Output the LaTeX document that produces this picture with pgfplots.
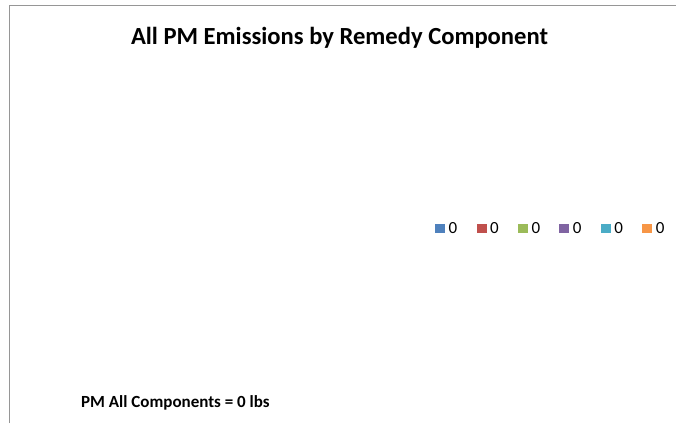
\documentclass[border=0pt]{standalone}
\usepackage{fontspec}
\setmainfont{Carlito}
\usepackage{pgfplots}
\pgfplotsset{compat=1.18}
\definecolor{c1}{HTML}{4F81BD}
\definecolor{c2}{HTML}{C0504D}
\definecolor{c3}{HTML}{9BBB59}
\definecolor{c4}{HTML}{8064A2}
\definecolor{c5}{HTML}{4BACC6}
\definecolor{c6}{HTML}{F79646}
\definecolor{frame}{RGB}{150,150,150}
\begin{document}
\begin{tikzpicture}[x=1pt,y=1pt]
\path[use as bounding box] (0,0) rectangle (676,423);
\draw[frame, line width=1.5pt] (9.5,0) -- (9.5,417.5) -- (676,417.5);
\begin{axis}[
  at={(0,0)}, anchor=south west,
  scale only axis, width=676pt, height=423pt,
  xmin=0, xmax=676, ymin=0, ymax=423,
  hide axis,
  legend columns=6,
  legend style={at={(axis cs:432,194.5)}, anchor=west, draw=none, fill=none,
    font=\fontsize{17}{19}\selectfont,
    nodes={inner sep=0pt, anchor=west},
    /tikz/every odd column/.append style={column sep=3.5pt},
    /tikz/every even column/.append style={column sep=19.3pt}},
  legend image code/.code={\fill[#1] (0pt,-4.8pt) rectangle (10pt,4.8pt);},
]
\addplot[draw=none, fill=c1] coordinates {(0,0)}; \addlegendentry{0}
\addplot[draw=none, fill=c2] coordinates {(0,0)}; \addlegendentry{0}
\addplot[draw=none, fill=c3] coordinates {(0,0)}; \addlegendentry{0}
\addplot[draw=none, fill=c4] coordinates {(0,0)}; \addlegendentry{0}
\addplot[draw=none, fill=c5] coordinates {(0,0)}; \addlegendentry{0}
\addplot[draw=none, fill=c6] coordinates {(0,0)}; \addlegendentry{0}
\end{axis}
\node[font=\fontsize{24.6}{28}\selectfont\bfseries, inner sep=0pt] at (339.5,385) {All PM Emissions by Remedy Component};
\node[font=\fontsize{17}{19}\selectfont\bfseries, inner sep=0pt, anchor=west] at (81,20) {PM All Components = 0 lbs};
\end{tikzpicture}
\end{document}
